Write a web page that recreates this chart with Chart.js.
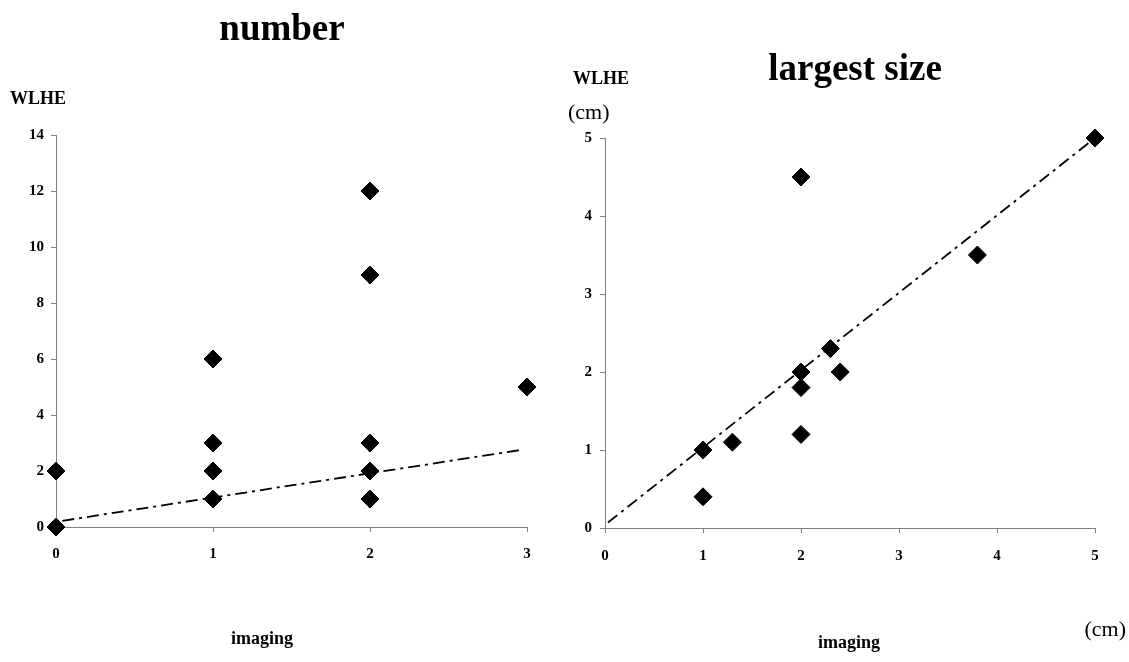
<!DOCTYPE html>
<html>
<head>
<meta charset="utf-8">
<title>WLHE vs imaging</title>
<script src="https://cdn.jsdelivr.net/npm/chart.js@4.4.0/dist/chart.umd.min.js"></script>
<style>
  html, body { margin: 0; padding: 0; background: #ffffff; }
  #wrap { position: relative; width: 1129px; height: 662px; }
  #numberChart { position: absolute; left: 0; top: 0; }
  #sizeChart { position: absolute; left: 560px; top: 0; }
</style>
</head>
<body>
<div id="wrap">
  <canvas id="numberChart" width="560" height="662"></canvas>
  <canvas id="sizeChart" width="569" height="662"></canvas>
</div>
<script>
// Left chart: number of lesions, imaging (x) vs WLHE (y)
var numberImaging = [0, 0, 1, 1, 1, 1, 2, 2, 2, 2, 2, 3];
var numberWlhe    = [0, 2, 1, 2, 3, 6, 1, 2, 3, 9, 12, 5];
var numberTrendX  = [0.04, 2.97];
var numberTrendY  = [0.22, 2.76];
var numberXTicks  = [0, 1, 2, 3];
var numberYTicks  = [0, 2, 4, 6, 8, 10, 12, 14];

// Right chart: largest size (cm), imaging (x) vs WLHE (y)
var sizeImaging = [1, 1, 1.3, 2, 2, 2, 2, 2.3, 2.4, 3.8, 5];
var sizeWlhe    = [1, 0.4, 1.1, 4.5, 2, 1.8, 1.2, 2.3, 2, 3.5, 5];
var sizeTrendX  = [0.03, 5];
var sizeTrendY  = [0.07, 5];
var sizeXTicks  = [0, 1, 2, 3, 4, 5];
var sizeYTicks  = [0, 1, 2, 3, 4, 5];

var serif = "'Liberation Serif', 'Times New Roman', serif";

function toPoints(xs, ys) {
    return xs.map(function (x, i) { return { x: x, y: ys[i] }; });
}

// plain text labels placed around the plot (titles, axis captions)
var freeText = {
    id: 'freeText',
    afterDraw: function (chart, args, opts) {
        var ctx = chart.ctx;
        ctx.save();
        ctx.fillStyle = '#000000';
        ctx.textBaseline = 'alphabetic';
        (opts.items || []).forEach(function (t) {
            ctx.font = t.font;
            ctx.textAlign = t.align || 'left';
            ctx.fillText(t.text, t.x, t.y);
        });
        ctx.restore();
    }
};

function axisOptions(ticks, fit, labelPad) {
    return {
        type: 'linear',
        min: ticks[0],
        max: ticks[ticks.length - 1],
        afterBuildTicks: function (scale) {
            scale.ticks = ticks.map(function (v) { return { value: v }; });
        },
        afterFit: fit,
        grid: { drawOnChartArea: false, drawTicks: true, tickLength: 5, color: '#808080' },
        border: { color: '#808080', width: 1 },
        ticks: {
            color: '#000000',
            padding: labelPad,
            font: { family: serif, size: 15, weight: 'bold' }
        }
    };
}

function diamondSet(points) {
    return {
        data: points,
        pointStyle: 'rectRot',
        pointRadius: 9,
        pointBackgroundColor: '#000000',
        pointBorderColor: '#000000',
        pointBorderWidth: 1,
        showLine: false,
        clip: false
    };
}

function trendSet(points) {
    return {
        data: points,
        showLine: true,
        pointRadius: 0,
        borderColor: '#000000',
        borderWidth: 1.8,
        borderDash: [12, 5, 3, 5],
        fill: false,
        clip: false
    };
}

// Number chart
var numberCtx = document.getElementById('numberChart').getContext('2d');
var numberChart = new Chart(numberCtx, {
    type: 'scatter',
    data: {
        datasets: [
            diamondSet(toPoints(numberImaging, numberWlhe)),
            trendSet(toPoints(numberTrendX, numberTrendY))
        ]
    },
    options: {
        responsive: false,
        animation: false,
        layout: { padding: { left: 0, top: 135, right: 33, bottom: 0 } },
        scales: {
            x: axisOptions(numberXTicks, function (s) { s.height = 135; }, 13),
            y: axisOptions(numberYTicks, function (s) { s.width = 56; }, 7)
        },
        plugins: {
            legend: { display: false },
            tooltip: { enabled: false },
            freeText: {
                items: [
                    { text: 'number', x: 282, y: 40, font: 'bold 37px ' + serif, align: 'center' },
                    { text: 'WLHE', x: 10, y: 104, font: 'bold 18px ' + serif },
                    { text: 'imaging', x: 262, y: 644, font: 'bold 18px ' + serif, align: 'center' }
                ]
            }
        }
    },
    plugins: [freeText]
});

// Largest size chart
var sizeCtx = document.getElementById('sizeChart').getContext('2d');
var sizeChart = new Chart(sizeCtx, {
    type: 'scatter',
    data: {
        datasets: [
            diamondSet(toPoints(sizeImaging, sizeWlhe)),
            trendSet(toPoints(sizeTrendX, sizeTrendY))
        ]
    },
    options: {
        responsive: false,
        animation: false,
        layout: { padding: { left: 0, top: 138, right: 34, bottom: 0 } },
        scales: {
            x: axisOptions(sizeXTicks, function (s) { s.height = 134; }, 14),
            y: axisOptions(sizeYTicks, function (s) { s.width = 45; }, 8)
        },
        plugins: {
            legend: { display: false },
            tooltip: { enabled: false },
            freeText: {
                items: [
                    { text: 'largest size', x: 295, y: 80, font: 'bold 37px ' + serif, align: 'center' },
                    { text: 'WLHE', x: 13, y: 84, font: 'bold 18px ' + serif },
                    { text: '(cm)', x: 8, y: 119, font: '22px ' + serif },
                    { text: '(cm)', x: 566, y: 636, font: '22px ' + serif, align: 'right' },
                    { text: 'imaging', x: 289, y: 648, font: 'bold 18px ' + serif, align: 'center' }
                ]
            }
        }
    },
    plugins: [freeText]
});
</script>
</body>
</html>
